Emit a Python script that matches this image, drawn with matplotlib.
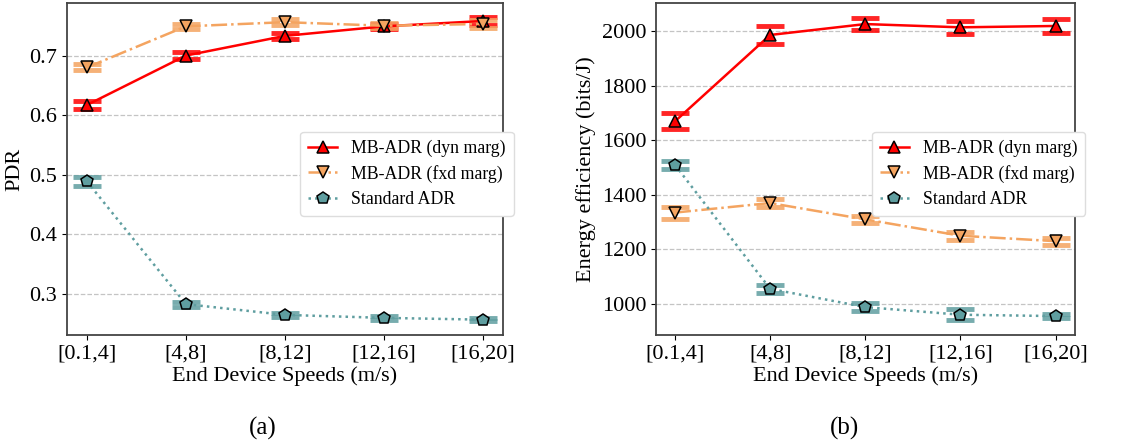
import matplotlib
matplotlib.use("Agg")
import matplotlib.pyplot as plt
import numpy as np

plt.rcParams['font.family'] = ['Liberation Serif', 'DejaVu Serif']
plt.rcParams['mathtext.fontset'] = 'stix'

categories = ['[0.1,4]', '[4,8]', '[8,12]', '[12,16]', '[16,20]']

pdr_dyn = [0.617, 0.700, 0.733, 0.749, 0.758]
pdr_dyn_err = [0.006, 0.006, 0.005, 0.004, 0.006]
pdr_fxd = [0.680, 0.749, 0.756, 0.750, 0.753]
pdr_fxd_err = [0.005, 0.004, 0.005, 0.004, 0.006]
pdr_std = [0.489, 0.283, 0.265, 0.260, 0.257]
pdr_std_err = [0.008, 0.004, 0.003, 0.003, 0.002]

ee_dyn = [1670, 1987, 2027, 2015, 2020]
ee_dyn_err = [30, 33, 22, 23, 27]
ee_fxd = [1335, 1370, 1310, 1250, 1230]
ee_fxd_err = [22, 13, 14, 14, 13]
ee_std = [1510, 1055, 988, 960, 955]
ee_std_err = [15, 15, 15, 20, 8]

labels = ['MB-ADR (dyn marg)', 'MB-ADR (fxd marg)', 'Standard ADR']
colors = ['#ff0000', '#f4a460', '#5f9ea0']
markers = ['^', 'v', 'p']
styles = ['-', '-.', ':']

fig = plt.figure(figsize=(11.44, 4.41), dpi=100)
ax1 = fig.add_axes([0.0586, 0.240, 0.381, 0.753])
ax2 = fig.add_axes([0.5734, 0.240, 0.366, 0.753])

x = np.arange(len(categories))

def draw(ax, series, errs, ylabel, letter, legx):
    for s, e, lab, c, m, ls in zip(series, errs, labels, colors, markers, styles):
        ax.errorbar(x, s, yerr=e, fmt='none', ecolor=c, elinewidth=0,
                    capsize=10, capthick=3.5, alpha=0.85, zorder=2)
        ax.plot(x, s, label=lab, color=c, linestyle=ls, linewidth=1.8,
                marker=m, markersize=9, markerfacecolor=c, markeredgecolor='black',
                markeredgewidth=1.1, zorder=3)
    ax.set_xticks(x)
    ax.set_xticklabels(categories)
    ax.tick_params(labelsize=16)
    ax.set_xlabel('End Device Speeds (m/s)', fontsize=16, labelpad=2)
    ax.set_ylabel(ylabel, fontsize=16)
    ax.grid(axis='y', linestyle='--', color='#c4c4c4', linewidth=0.9)
    ax.set_axisbelow(True)
    for sp in ax.spines.values():
        sp.set_color('#444444')
        sp.set_linewidth(1.3)
    ax.set_xlim(-0.2, 4.2)
    ax.legend(loc='upper left', bbox_to_anchor=(legx, 0.64), fontsize=12.8,
              framealpha=1, edgecolor='#dddddd', handlelength=1.6,
              borderpad=0.45, labelspacing=0.45, handletextpad=0.8)
    ax.text(0.45, -0.245, letter, transform=ax.transAxes, fontsize=18,
            ha='center', va='top')

draw(ax1, [pdr_dyn, pdr_fxd, pdr_std], [pdr_dyn_err, pdr_fxd_err, pdr_std_err], 'PDR', '(a)', 0.515)
ax1.set_ylim(0.231, 0.788)
ax1.set_yticks([0.3, 0.4, 0.5, 0.6, 0.7])

draw(ax2, [ee_dyn, ee_fxd, ee_std], [ee_dyn_err, ee_fxd_err, ee_std_err], 'Energy efficiency (bits/J)', '(b)', 0.495)
ax2.set_ylim(885, 2104)
ax2.set_yticks([1000, 1200, 1400, 1600, 1800, 2000])

fig.savefig('out.png', dpi=100)
